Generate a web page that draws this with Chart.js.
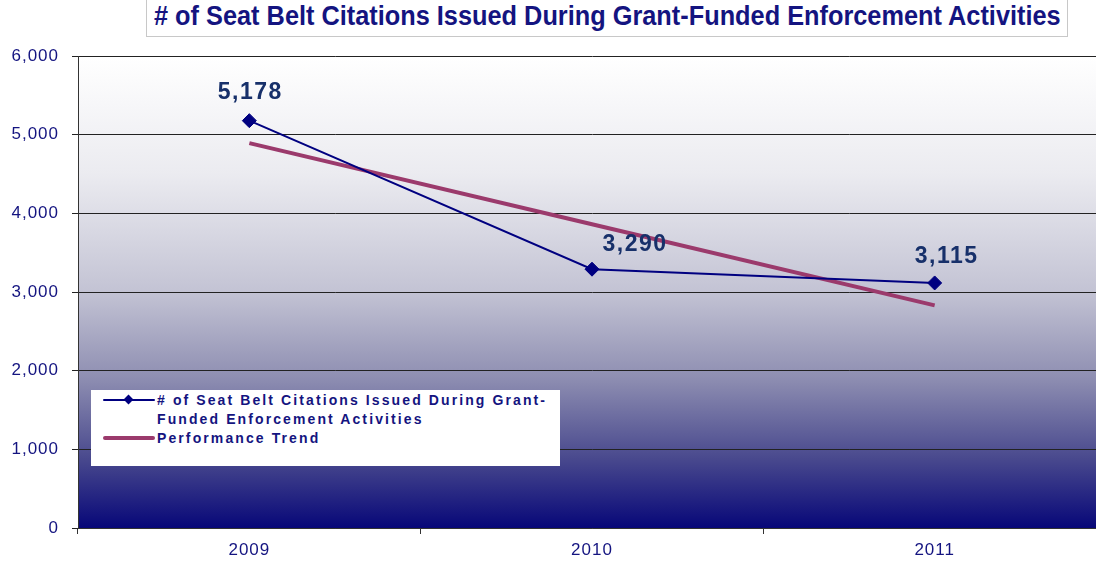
<!DOCTYPE html>
<html>
<head>
<meta charset="utf-8">
<script src="https://cdn.jsdelivr.net/npm/chart.js@4.4.0/dist/chart.umd.min.js"></script>
<style>
  html, body { margin: 0; padding: 0; background: #fff; overflow: hidden; width: 1096px; height: 561px; }
  #wrap { position: absolute; left: 0; top: 0; width: 1114px; height: 561px; }
  #title { position: absolute; left: 146px; top: -1px; width: 920px; height: 36px; border: 1px solid #c8c8c8; background: #fff; }
  #titleText { position: absolute; left: 7px; top: 1px; white-space: nowrap; font: bold 27px "Liberation Sans Narrow", "Liberation Sans", Arial, sans-serif; color: #141480; transform-origin: 0 0; }
  #legend { position: absolute; left: 91px; top: 390px; width: 469px; height: 76px; background: #fff; font: bold 14px "Liberation Sans", Arial, sans-serif; color: #141480; letter-spacing: 2.1px; }
  .item { position: absolute; left: 12px; display: flex; align-items: flex-start; }
  .sym { position: relative; width: 54px; height: 17px; flex: none; }
  .txt { width: 403px; line-height: 19px; }
</style>
</head>
<body>
<div id="wrap"><canvas id="chart" width="1114" height="561"></canvas></div>
<div id="title"><span id="titleText"></span></div>
<div id="legend"></div>
<script>
// chart data
const years = ['2009', '2010', '2011'];
const citations = [5178, 3290, 3115];
const trend = [4892.5, 3861, 2829.5];
const yTicks = [0, 1000, 2000, 3000, 4000, 5000, 6000];

const titleText = '# of Seat Belt Citations Issued During Grant-Funded Enforcement Activities';
const seriesLabel = '# of Seat Belt Citations Issued During Grant-Funded Enforcement Activities';
const trendLabel = 'Performance Trend';

// title, squeezed to the width used in the original
const t = document.getElementById('titleText');
t.textContent = titleText;
t.style.transform = 'scaleX(' + (907 / t.offsetWidth) + ')';

// gradient plot background (also sets the wide letter spacing of the axis text)
const bgPlugin = {
    id: 'bg',
    beforeDraw(chart) {
        const a = chart.chartArea;
        const c = chart.ctx;
        c.letterSpacing = '1px';
        const g = c.createLinearGradient(0, a.top, 0, a.bottom);
        g.addColorStop(0, '#ffffff');
        g.addColorStop(0.25, '#ebebf0');
        g.addColorStop(0.5, '#c3c3d4');
        g.addColorStop(0.68, '#8f8fb2');
        g.addColorStop(0.85, '#4a4a8e');
        g.addColorStop(1, '#070778');
        c.save();
        c.fillStyle = g;
        c.fillRect(a.left, a.top, a.right - a.left, a.bottom - a.top);
        c.restore();
    }
};

// value labels over the citation points
const labelOffsets = [[0, -28], [42, -25], [11, -26]];
const labelPlugin = {
    id: 'vals',
    afterDatasetsDraw(chart) {
        const c = chart.ctx;
        const meta = chart.getDatasetMeta(0);
        c.save();
        c.font = 'bold 23px "Liberation Sans", Arial, sans-serif';
        c.letterSpacing = '1.5px';
        c.fillStyle = '#17306a';
        c.textAlign = 'center';
        c.textBaseline = 'middle';
        meta.data.forEach((p, i) => {
            const v = chart.data.datasets[0].data[i];
            c.fillText(v.toLocaleString('en-US'), p.x + labelOffsets[i][0] + 1, p.y + labelOffsets[i][1]);
        });
        c.restore();
    }
};

const chart = new Chart(document.getElementById('chart'), {
    type: 'line',
    data: {
        labels: years,
        datasets: [{
            label: seriesLabel,
            data: citations,
            borderColor: '#000080',
            backgroundColor: '#000080',
            borderWidth: 2,
            pointStyle: 'rectRot',
            pointRadius: 7,
            pointBorderWidth: 1,
            tension: 0,
            order: 1
        }, {
            label: trendLabel,
            data: trend,
            borderColor: '#9b3a6c',
            backgroundColor: '#9b3a6c',
            borderWidth: 4,
            pointRadius: 0,
            tension: 0,
            order: 2
        }]
    },
    options: {
        responsive: false,
        animation: false,
        layout: { padding: { top: 56, left: 0, right: 0, bottom: 0 } },
        plugins: {
            legend: { display: false },
            tooltip: { enabled: false }
        },
        scales: {
            x: {
                offset: true,
                grid: { offset: true, drawOnChartArea: false, drawTicks: true, tickLength: 6, color: '#333' },
                border: { color: '#333' },
                ticks: { color: '#141480', font: { size: 17, family: '"Liberation Sans", Arial' }, padding: 6 },
                afterFit(s) { s.height = 33; }
            },
            y: {
                min: 0,
                max: 6000,
                afterBuildTicks(s) { s.ticks = yTicks.map(v => ({ value: v })); },
                grid: { color: '#222', lineWidth: 1, tickLength: 6 },
                border: { color: '#333' },
                ticks: {
                    color: '#141480',
                    font: { size: 17, family: '"Liberation Sans", Arial' },
                    padding: 13,
                    callback: v => v.toLocaleString('en-US')
                },
                afterFit(s) { s.width = 78; }
            }
        }
    },
    plugins: [bgPlugin, labelPlugin]
});

// legend box
const legend = document.getElementById('legend');
const tops = [1, 39];
chart.data.datasets.forEach((ds, i) => {
    const item = document.createElement('div');
    item.className = 'item';
    item.style.top = tops[i] + 'px';
    const sym = document.createElement('div');
    sym.className = 'sym';
    const line = document.createElement('div');
    line.style.cssText = 'position:absolute;left:0;top:' + (i === 0 ? 8 : 7) + 'px;width:52px;height:' + (i === 0 ? 2 : 4) + 'px;background:' + ds.borderColor + ';border-radius:2px;';
    sym.appendChild(line);
    if (i === 0) {
        const d = document.createElement('div');
        d.style.cssText = 'position:absolute;left:22px;top:5px;width:7px;height:7px;background:' + ds.borderColor + ';transform:rotate(45deg);';
        sym.appendChild(d);
    }
    const txt = document.createElement('div');
    txt.className = 'txt';
    txt.textContent = ds.label;
    item.appendChild(sym);
    item.appendChild(txt);
    legend.appendChild(item);
});
</script>
</body>
</html>
